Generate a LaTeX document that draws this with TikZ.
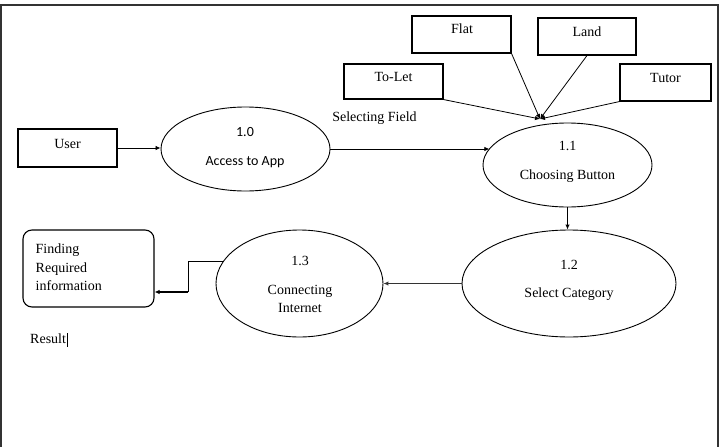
\documentclass[tikz,border=0pt]{standalone}
\usepackage{fontspec}
\setmainfont{Liberation Serif}
\newfontfamily\calib{Carlito}
\usetikzlibrary{shapes.geometric,arrows.meta}
\begin{document}
\begin{tikzpicture}[x=1pt,y=-1pt,
  every node/.style={font=\rmfamily\fontsize{14}{17}\selectfont},
  box/.style={draw,line width=1.1pt,inner sep=0pt},
  proc/.style={draw,ellipse,line width=0.9pt,inner sep=0pt},
  lbl/.style={anchor=base,inner sep=0pt},
  sans/.style={anchor=base,inner sep=0pt,font=\calib\fontsize{14}{17}\selectfont},
  arr/.style={-{Latex[length=5pt,width=4.5pt]},line width=0.8pt},
  feed/.style={-{Latex[length=5pt,width=4.5pt]},line width=0.9pt},
]
\useasboundingbox (0,0) rectangle (723,447);
% frame
\draw[line width=1.8pt,black!80] (1,447) -- (1,5) -- (718,5) -- (718,447);

% boxes
\node[box,minimum width=99pt,minimum height=38pt] (user) at (67.5,148) {};
\node[lbl] (usert) at (67.5,148) {User};
\node[box,minimum width=99pt,minimum height=37pt] (flat) at (461.5,34.5) {};
\node[lbl] (flatt) at (462,33.3) {Flat};
\node[box,minimum width=98pt,minimum height=37pt] (land) at (587,36.5) {};
\node[lbl] (landt) at (587,36.7) {Land};
\node[box,minimum width=99pt,minimum height=35pt] (tolet) at (393.5,81.5) {};
\node[lbl] (tolett) at (393.5,81) {To-Let};
\node[box,minimum width=91pt,minimum height=37pt] (tutor) at (665.5,82.5) {};
\node[lbl] (tutort) at (665.5,82.7) {Tutor};
\node[box,rounded corners=9pt,minimum width=131pt,minimum height=77pt] (find) at (88.5,268.5) {};
\node[anchor=base west,inner sep=0pt,align=left,font=\rmfamily\fontsize{14}{18.7}\selectfont] (findt) at (35.5,290.7) {Finding\\Required\\information};

% processes
\node[proc,minimum width=169pt,minimum height=84pt] (p10) at (245.5,149) {};
\node[sans] (p10n) at (245,136) {1.0};
\node[sans] (p10t) at (245,165) {Access to App};
\node[proc,minimum width=169pt,minimum height=84pt] (p11) at (567.5,165) {};
\node[lbl] (p11n) at (567.5,150.7) {1.1};
\node[lbl] (p11t) at (567.5,179) {Choosing Button};
\node[proc,minimum width=214pt,minimum height=107pt] (p12) at (569,283.5) {};
\node[lbl] (p12n) at (569,269) {1.2};
\node[lbl] (p12t) at (569,297) {Select Category};
\node[proc,minimum width=167pt,minimum height=107pt] (p13) at (299.5,283.5) {};
\node[lbl] (p13n) at (300,265.7) {1.3};
\node[lbl] (p13t) at (300,294) {Connecting};
\node[lbl] (p13u) at (300,312.7) {Internet};

% free labels
\node[lbl] (sel) at (374.5,121) {Selecting Field};
\node[anchor=base west,inner sep=0pt] (res) at (30,343) {Result};
\draw[line width=0.6pt] ([xshift=1pt]res.base east) ++(0,-10) coordinate (cur1) -- ++(0,14) coordinate (cur2);

% connectors
\coordinate (hub) at (540,119);
\draw[arr] (user.east) -- (user.east -| p10.west);
\draw[arr] (p10.east) -- (p10.east -| p11.168);
\draw[arr,line width=1.1pt] (p11.south) -- (p11.south |- p12.north);
\draw[feed,line width=1.8pt,black!80] (p12.west) -- (p13.east);
\coordinate (bend) at (188,292);
\draw[line width=0.9pt] (p13.164) -| (bend);
\draw[feed,line width=1.8pt] (bend) -- (bend -| find.east);
\draw[arr] (tolet.south east) -- (hub);
\draw[arr] (flat.south east) -- (hub);
\draw[arr] (land.south) -- (hub);
\draw[arr] (tutor.south west) -- (hub);
\end{tikzpicture}
\end{document}
